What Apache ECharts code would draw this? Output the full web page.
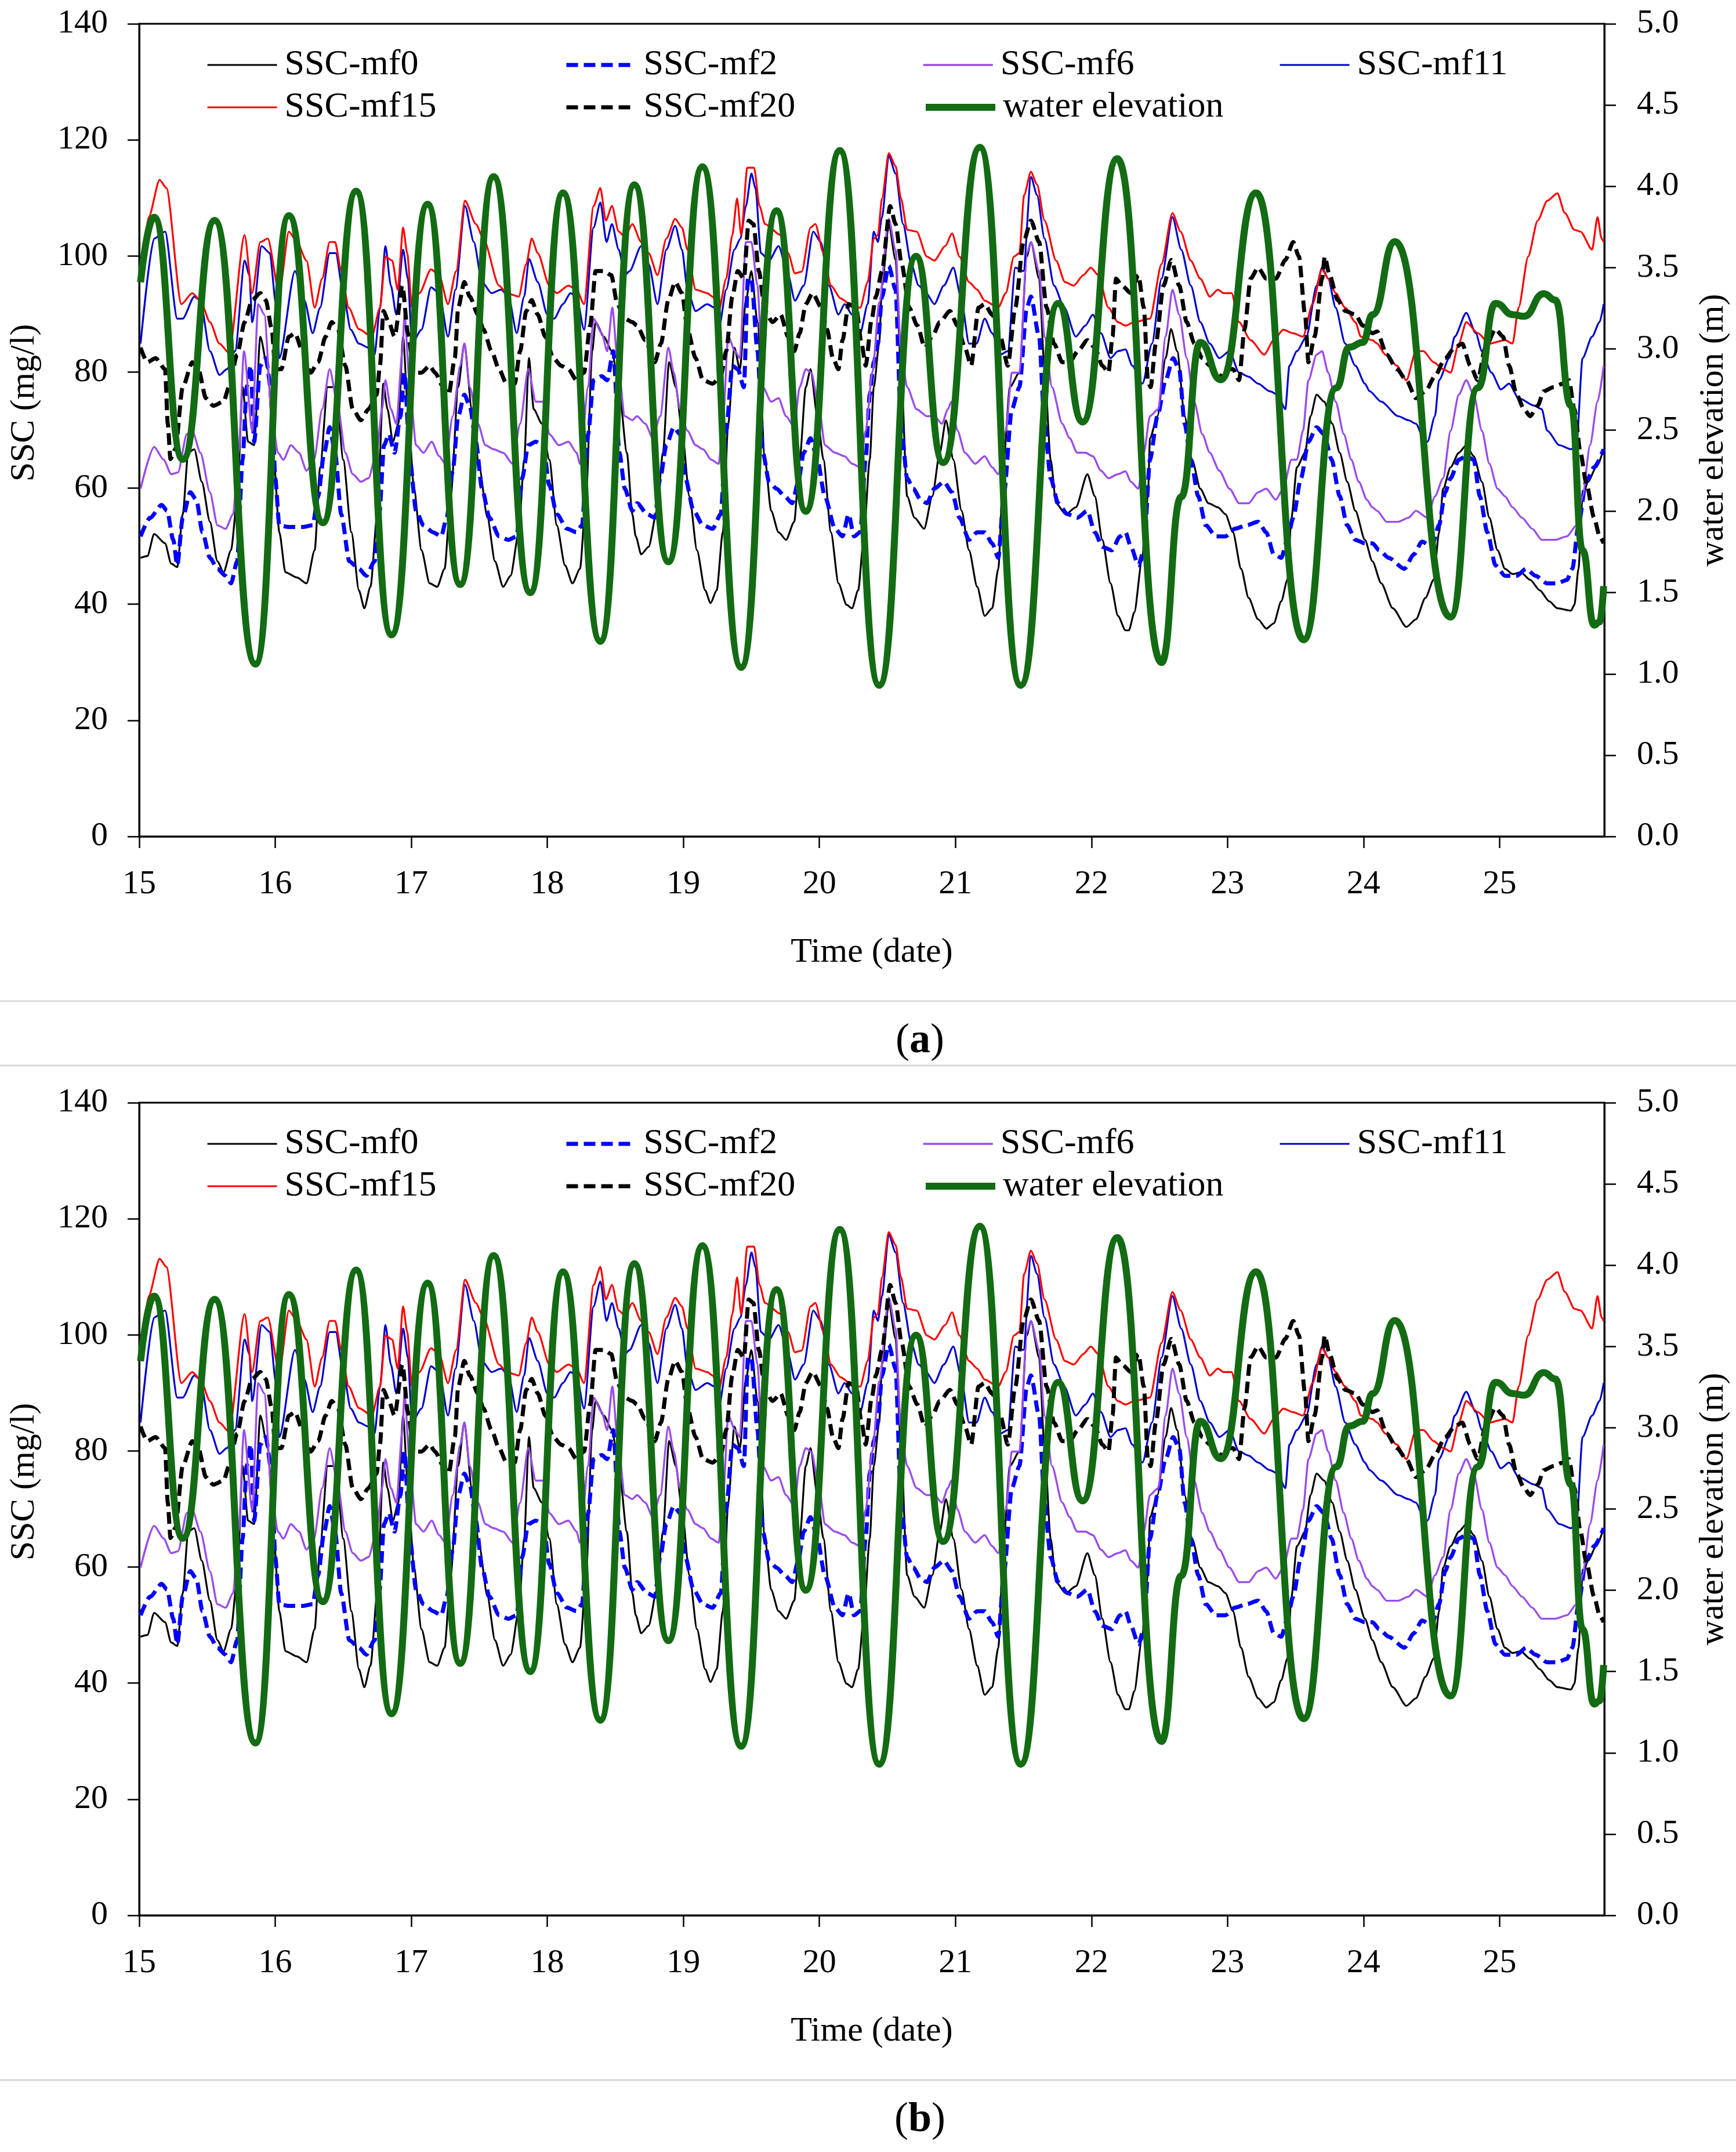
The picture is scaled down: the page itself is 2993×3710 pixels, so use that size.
<!DOCTYPE html>
<html>
<head>
<meta charset="utf-8">
<script src="https://cdn.jsdelivr.net/npm/echarts@6/dist/echarts.min.js"></script>
<style>
html,body{margin:0;padding:0;background:#fff;}
#c{width:2993px;height:3710px;}
</style>
</head>
<body>
<div id="c"></div>
<script>
// ---------- data (time in days, SSC in mg/l, water elevation in m) ----------
const dayTicks = [15,16,17,18,19,20,21,22,23,24,25];
const ssCTicksMax = 140;
const elevTicksMax = 5;

const mf0 = [[15.01,48],[15.06,48.3],[15.11,52.1],[15.19,50.5],[15.235,47],[15.28,46.4],[15.32,55.5],[15.36,66.1],[15.405,66.7],[15.46,61.1],[15.52,54.2],[15.575,47.4],[15.62,45.5],[15.675,49.3],[15.72,58],[15.76,77.4],[15.80,68],[15.845,67.4],[15.89,86.1],[15.945,80.5],[15.99,64.9],[16.03,52.4],[16.075,45.5],[16.16,44.6],[16.23,43.6],[16.29,49.3],[16.33,63.6],[16.385,77.4],[16.445,77.4],[16.50,64.9],[16.56,52.4],[16.615,42.4],[16.655,39.3],[16.70,43],[16.75,55.5],[16.795,78],[16.825,73.6],[16.865,68],[16.905,71.1],[16.94,86.1],[16.975,73.6],[17.02,59.9],[17.075,49.3],[17.135,43.6],[17.19,43],[17.245,46.1],[17.29,58.6],[17.345,77.4],[17.39,84.9],[17.445,73.6],[17.50,63.6],[17.56,54.9],[17.615,47.4],[17.675,43],[17.73,44.9],[17.79,52.4],[17.83,64.9],[17.865,82.4],[17.90,73.6],[17.96,71.1],[18.015,64.9],[18.07,53.6],[18.13,46.7],[18.185,43.6],[18.24,46.1],[18.285,58.6],[18.33,83.6],[18.355,88.6],[18.415,86.1],[18.475,83.6],[18.525,77.4],[18.585,66.1],[18.625,55.5],[18.65,51.7],[18.69,48.6],[18.745,49.9],[18.805,56.1],[18.85,66.1],[18.895,81.7],[18.945,77.4],[18.99,69.9],[19.045,58.6],[19.10,49.3],[19.16,42.4],[19.20,40.2],[19.245,42.4],[19.29,52.4],[19.33,71.1],[19.375,84.2],[19.415,80.5],[19.46,92.4],[19.50,97.4],[19.545,88.6],[19.60,64.9],[19.645,56.1],[19.70,52.4],[19.755,51.1],[19.815,54.2],[19.855,64.9],[19.90,77.4],[19.935,80.5],[19.985,72.4],[20.03,64.9],[20.085,52.4],[20.14,43.6],[20.20,39.9],[20.24,39.3],[20.285,42.4],[20.325,51.1],[20.37,64.9],[20.40,77.4],[20.44,85],[20.46,94.9],[20.51,105.5],[20.56,99.3],[20.60,80.5],[20.645,58.6],[20.70,54.9],[20.77,53],[20.83,58.6],[20.885,66.1],[20.93,71.7],[20.985,64.9],[21.045,56.1],[21.10,49.3],[21.16,43],[21.215,38],[21.27,39.3],[21.315,46.1],[21.355,64.9],[21.40,77.4],[21.47,79.9],[21.525,99.9],[21.555,102.4],[21.615,96.1],[21.655,80.5],[21.70,64.9],[21.74,57.4],[21.81,55.5],[21.885,56.7],[21.97,62.4],[22.025,58.6],[22.08,51.1],[22.14,43.6],[22.195,38],[22.25,35.5],[22.275,35.5],[22.315,38.6],[22.37,47.4],[22.415,58.6],[22.43,68.6],[22.485,72.4],[22.545,82.4],[22.585,87.4],[22.63,83.6],[22.685,72.4],[22.74,64.9],[22.80,59.9],[22.86,57.4],[22.93,56.7],[22.985,55.5],[23.04,52.4],[23.10,46.1],[23.155,41.1],[23.225,37.4],[23.285,35.8],[23.34,36.7],[23.395,40.5],[23.44,44.2],[23.47,54.9],[23.51,63.6],[23.57,66.1],[23.61,72.4],[23.655,76.1],[23.71,74.9],[23.77,71.1],[23.825,66.1],[23.88,61.1],[23.94,56.1],[24.01,51.1],[24.065,47.4],[24.13,43.6],[24.215,39.3],[24.315,36.1],[24.385,37.4],[24.455,41.1],[24.515,44.2],[24.555,52.4],[24.585,59.9],[24.64,63.6],[24.70,66.1],[24.755,67.4],[24.81,65.5],[24.87,61.1],[24.925,54.9],[24.985,49.3],[25.04,46.1],[25.095,45.2],[25.155,45.5],[25.225,44.2],[25.295,42.4],[25.365,40.5],[25.425,39.3],[25.525,38.9],[25.55,39.9],[25.58,46.1],[25.61,58.6],[25.65,61.1],[25.71,63.6],[25.765,66.7]];

const mf2 = [[15.01,51.7],[15.08,54.9],[15.165,57.1],[15.205,56.1],[15.25,51.1],[15.28,46.7],[15.32,54.9],[15.375,59.3],[15.42,58],[15.465,52.4],[15.52,48],[15.575,46.1],[15.635,44.9],[15.675,43.6],[15.72,47.4],[15.76,64.9],[15.79,77.4],[15.82,81.1],[15.845,68],[15.89,81.1],[15.93,82.4],[15.975,76.1],[16.0,61.7],[16.03,53.6],[16.10,53.3],[16.20,53.3],[16.275,53.6],[16.315,58.6],[16.36,66.1],[16.40,70.5],[16.44,66.1],[16.485,55.5],[16.545,47.4],[16.615,46.1],[16.67,44.9],[16.73,47.4],[16.765,55.5],[16.80,67.4],[16.835,69.3],[16.877,66.1],[16.92,72.4],[16.95,79.9],[16.99,64.9],[17.035,56.1],[17.09,53.6],[17.16,52.4],[17.22,51.7],[17.26,54.9],[17.305,63],[17.345,72.4],[17.39,76.1],[17.43,74.2],[17.475,68],[17.52,59.9],[17.575,54.9],[17.645,51.7],[17.715,51.1],[17.775,51.7],[17.815,61.7],[17.86,67.4],[17.915,68],[17.97,67.4],[18.015,60.5],[18.07,55.5],[18.145,53],[18.215,52.4],[18.255,53.6],[18.30,69.3],[18.34,78.6],[18.40,79.3],[18.44,78.6],[18.485,83.6],[18.53,66.1],[18.57,59.9],[18.625,56.1],[18.66,57.4],[18.735,55.5],[18.79,54.9],[18.83,61.7],[18.875,67.4],[18.93,70.5],[18.975,69.3],[19.015,61.7],[19.075,56.1],[19.145,53.6],[19.215,53],[19.275,55.5],[19.315,69.9],[19.36,81.1],[19.40,80.5],[19.445,77.4],[19.475,96.1],[19.50,96.1],[19.545,83.6],[19.585,66.1],[19.63,61.1],[19.685,59.9],[19.745,58.6],[19.80,57.4],[19.845,61.1],[19.885,66.1],[19.935,68.6],[19.985,64.9],[20.04,58.6],[20.115,53],[20.17,51.7],[20.215,55.5],[20.255,51.7],[20.30,52.4],[20.34,64.9],[20.37,76.1],[20.40,81.7],[20.43,85],[20.46,93],[20.51,98.3],[20.56,94.2],[20.60,71.1],[20.645,61.7],[20.69,59.9],[20.745,58],[20.79,57.4],[20.845,59.9],[20.915,61.1],[20.975,59.3],[21.03,54.9],[21.10,51.1],[21.16,52.4],[21.215,52.4],[21.27,50.5],[21.315,48],[21.355,58.6],[21.415,73.6],[21.47,77.4],[21.525,91.1],[21.555,93],[21.615,86.1],[21.655,71.1],[21.70,61.7],[21.755,57.4],[21.825,55.5],[21.895,54.9],[21.97,56.1],[22.025,52.4],[22.08,49.9],[22.15,49.3],[22.21,51.7],[22.25,52.4],[22.29,49.9],[22.345,46.7],[22.385,49.3],[22.43,64.9],[22.485,72.4],[22.545,78.6],[22.60,82.4],[22.645,80.5],[22.685,71.1],[22.73,64.9],[22.785,58.6],[22.84,53.6],[22.915,51.7],[22.985,51.7],[23.055,53],[23.14,53.6],[23.225,54.2],[23.285,52.4],[23.34,48.6],[23.395,48],[23.44,51.1],[23.483,54.9],[23.54,61.7],[23.595,68],[23.655,70.5],[23.71,69.3],[23.765,64.9],[23.825,58.6],[23.88,53.6],[23.94,51.1],[24.01,50.5],[24.066,50.5],[24.115,49.3],[24.185,48],[24.30,46.1],[24.37,48.6],[24.43,50.8],[24.50,49.9],[24.555,53.6],[24.60,59.3],[24.64,61.7],[24.70,64.9],[24.755,65.5],[24.81,64.9],[24.855,58.6],[24.91,52.4],[24.97,46.7],[25.04,44.9],[25.125,44.9],[25.195,46.1],[25.265,44.9],[25.35,43.6],[25.425,43.6],[25.495,44.2],[25.535,46.1],[25.58,53.6],[25.635,61.1],[25.695,63.6],[25.765,66.7]];

const mf6 = [[15.01,59.9],[15.11,67.1],[15.18,64.9],[15.235,62.4],[15.285,62.7],[15.35,69.3],[15.39,69.9],[15.45,66.1],[15.52,59.3],[15.575,53.6],[15.635,53],[15.69,55.5],[15.73,66.1],[15.77,83.6],[15.83,69.9],[15.875,91.7],[15.92,89.9],[15.975,72.4],[16.02,66.1],[16.06,64.9],[16.115,67.4],[16.175,66.1],[16.23,63],[16.285,64.9],[16.345,73.6],[16.40,80.5],[16.46,74.2],[16.515,66.1],[16.57,62.4],[16.63,61.1],[16.685,61.7],[16.745,66.1],[16.785,73.6],[16.81,78.6],[16.85,73.6],[16.89,71.1],[16.935,83.6],[16.95,89.9],[16.99,77.4],[17.035,67.4],[17.09,66.1],[17.15,68],[17.205,65.5],[17.25,64.2],[17.305,72.4],[17.36,81.1],[17.39,84.9],[17.43,77.4],[17.49,71.1],[17.545,67.4],[17.605,66.7],[17.675,66.1],[17.745,64.2],[17.80,71.1],[17.86,80.5],[17.915,74.9],[17.97,74.9],[18.015,69.3],[18.085,67.4],[18.155,68],[18.215,66.1],[18.24,64.2],[18.30,77.4],[18.34,89.2],[18.40,86.7],[18.44,83.6],[18.478,91.1],[18.515,82.4],[18.57,72.4],[18.625,71.7],[18.66,72.4],[18.72,71.1],[18.775,68.6],[18.83,72.4],[18.89,84.2],[18.93,79.9],[18.975,73.6],[19.03,69.9],[19.09,67.4],[19.145,66.7],[19.205,64.9],[19.26,64.2],[19.29,71.1],[19.33,86.1],[19.38,83.6],[19.415,82.4],[19.46,102.4],[19.50,102.4],[19.545,94.9],[19.585,77.4],[19.645,74.9],[19.70,75.5],[19.755,72.4],[19.815,70.5],[19.855,77.4],[19.90,80.5],[19.94,79.9],[20.0,73.6],[20.04,67.4],[20.115,66.1],[20.185,65.5],[20.24,64.2],[20.30,63.6],[20.34,69.9],[20.39,80],[20.44,92],[20.51,106.4],[20.56,101.1],[20.60,83.6],[20.645,77.4],[20.715,73.6],[20.79,72.4],[20.845,72.4],[20.90,71.1],[20.945,73.6],[20.97,74.9],[21.015,69.9],[21.07,66.1],[21.145,64.2],[21.215,65.5],[21.27,63.6],[21.315,62.4],[21.37,69.9],[21.415,79.9],[21.47,79.9],[21.525,100.5],[21.555,102.4],[21.615,97.4],[21.655,86.1],[21.71,77.4],[21.785,71.1],[21.84,68.6],[21.895,66.1],[21.955,66.1],[22.01,65.5],[22.07,63],[22.125,61.7],[22.195,62.4],[22.25,62.9],[22.29,61.1],[22.345,59.9],[22.385,66.1],[22.43,72.4],[22.49,73.6],[22.545,86.1],[22.595,94.2],[22.645,89.9],[22.70,82.4],[22.755,74.9],[22.815,69.3],[22.87,66.1],[22.94,63],[23.015,59.9],[23.085,57.4],[23.155,57.4],[23.225,59.3],[23.285,59.9],[23.355,58],[23.41,59.9],[23.47,64.9],[23.51,64.9],[23.555,69.9],[23.595,78.6],[23.655,83],[23.695,83.6],[23.74,79.9],[23.795,74.9],[23.855,69.3],[23.91,64.9],[23.965,61.1],[24.025,58],[24.065,56.7],[24.10,56.1],[24.17,54.2],[24.255,54.2],[24.33,54.9],[24.385,56.1],[24.47,54.9],[24.525,58.6],[24.585,61.7],[24.64,69.9],[24.70,76.1],[24.755,78.6],[24.81,76.1],[24.87,69.9],[24.925,64.2],[24.985,59.9],[25.04,58.6],[25.095,56.7],[25.165,54.9],[25.24,53],[25.31,51.1],[25.41,51.1],[25.495,51.7],[25.565,53.6],[25.61,58.6],[25.665,67.4],[25.72,74.9],[25.765,81.1]];

const mf11 = [[15.01,84.9],[15.11,103],[15.19,104.2],[15.28,89.2],[15.32,89.2],[15.405,93],[15.45,92.3],[15.52,83.6],[15.59,79.5],[15.645,80.5],[15.705,83.6],[15.775,99.2],[15.81,96.7],[15.83,88.6],[15.90,101.7],[15.96,100.5],[16.005,91.7],[16.03,82.4],[16.145,97.4],[16.215,92.3],[16.275,86.7],[16.33,91.1],[16.40,100.5],[16.445,100.5],[16.50,93.6],[16.555,87.3],[16.615,84.9],[16.685,84.2],[16.73,83],[16.77,91.1],[16.81,101.7],[16.85,94.9],[16.89,89.9],[16.94,101.1],[16.975,96.1],[17.005,84.9],[17.075,87.3],[17.145,94.6],[17.205,93.6],[17.27,86.1],[17.325,94.2],[17.395,108.6],[17.46,102.4],[17.52,95.5],[17.59,93.6],[17.66,94.2],[17.715,93],[17.775,86.7],[17.83,93],[17.865,99.5],[17.93,95.5],[18.0,89.9],[18.05,89.2],[18.115,91.7],[18.17,93.6],[18.215,93],[18.27,87.3],[18.34,104.9],[18.39,109.2],[18.435,102.4],[18.475,105.5],[18.525,101.1],[18.57,96.7],[18.605,97.4],[18.69,101.7],[18.745,98.6],[18.81,91.7],[18.875,101.1],[18.94,105.2],[18.99,101.1],[19.03,94.2],[19.09,90.5],[19.175,91.7],[19.23,91.1],[19.265,88],[19.315,94.2],[19.375,101.1],[19.42,103],[19.46,108.6],[19.50,114.2],[19.53,111.7],[19.57,100.5],[19.63,99.2],[19.70,101.7],[19.77,96.7],[19.82,92.3],[19.885,94.9],[19.955,104.2],[20.01,102.4],[20.07,94.9],[20.14,89.9],[20.185,91.7],[20.24,89.9],[20.30,86.7],[20.355,91.7],[20.40,104.2],[20.43,102.4],[20.46,106.7],[20.51,117.3],[20.56,114.2],[20.615,105.5],[20.675,98.6],[20.73,94.9],[20.785,93.6],[20.845,91.7],[20.915,94.9],[20.985,98],[21.04,93],[21.10,84.9],[21.155,84.9],[21.215,89.2],[21.27,86.7],[21.33,83],[21.385,83.6],[21.44,98],[21.50,97.4],[21.555,113.6],[21.60,110.5],[21.655,103],[21.725,94.9],[21.80,91.1],[21.885,86.1],[21.955,88],[22.01,89.9],[22.07,86.7],[22.14,82.4],[22.195,83.6],[22.25,83.9],[22.30,81.1],[22.375,78],[22.445,84.9],[22.515,96.1],[22.595,106.7],[22.66,101.1],[22.73,94.9],[22.80,88.6],[22.87,84.9],[22.94,82.4],[23.015,83.6],[23.085,79.9],[23.155,79.2],[23.225,78],[23.31,76.7],[23.37,76.1],[23.425,73.6],[23.455,81.1],[23.51,83.6],[23.58,86.1],[23.655,94.9],[23.695,98],[23.74,96.1],[23.795,91.1],[23.865,84.9],[23.94,81.1],[24.01,78],[24.044,76.7],[24.13,74.9],[24.255,72.4],[24.33,71.7],[24.385,71.1],[24.44,68.6],[24.47,68],[24.525,72.4],[24.555,78.6],[24.63,82.4],[24.67,86.1],[24.755,90.2],[24.825,86.7],[24.87,83.6],[24.94,79.9],[25.01,77],[25.07,78],[25.14,75.5],[25.255,74.2],[25.31,73.6],[25.35,69.9],[25.44,67.4],[25.525,66.7],[25.565,67.4],[25.61,82.4],[25.68,86.1],[25.735,88.6],[25.765,91.7]];

const mf15 = [[15.01,96],[15.07,106.7],[15.15,113.1],[15.20,111.7],[15.31,91.7],[15.39,93.6],[15.45,92.3],[15.52,88.6],[15.59,84.9],[15.66,83.3],[15.775,103.6],[15.83,93.6],[15.89,102.4],[15.945,103],[16.03,93.6],[16.10,104.2],[16.16,102.4],[16.23,99.2],[16.29,91.1],[16.345,96.1],[16.40,102.4],[16.44,102.4],[16.485,97.4],[16.54,91.1],[16.615,87.4],[16.71,86.1],[16.77,91.1],[16.81,99.9],[16.86,99.2],[16.90,94.2],[16.94,104.9],[16.97,100.5],[17.005,91.1],[17.06,93.6],[17.145,97.7],[17.205,96.7],[17.27,91.7],[17.33,97.4],[17.395,109.5],[17.475,105.5],[17.53,103],[17.645,94.9],[17.70,93.6],[17.79,93],[17.845,98.6],[17.885,103],[17.93,100.5],[18.015,94.9],[18.07,93.6],[18.155,94.9],[18.215,94.2],[18.27,91.7],[18.34,108.6],[18.39,111.7],[18.43,106.1],[18.475,108.6],[18.525,104.2],[18.57,103.3],[18.625,105.5],[18.69,102.4],[18.745,100.5],[18.81,96.7],[18.875,103],[18.94,106.4],[18.99,104.9],[19.03,101.1],[19.09,94.2],[19.175,93.6],[19.215,93],[19.26,90.5],[19.315,96.1],[19.36,103.6],[19.395,109.9],[19.425,103.6],[19.47,115.2],[19.52,115.2],[19.56,108.6],[19.60,105.5],[19.715,103.6],[19.77,100.5],[19.82,97],[19.87,97.3],[19.935,104.9],[19.97,105.5],[20.03,100.5],[20.085,94.9],[20.155,92.7],[20.225,91.7],[20.30,91.1],[20.355,95.5],[20.40,103],[20.43,103.6],[20.46,109.9],[20.51,117.7],[20.56,115.5],[20.60,109.9],[20.645,104.5],[20.715,104.2],[20.79,99.9],[20.845,99.2],[20.925,101.7],[20.975,103.9],[21.03,99.9],[21.10,95.5],[21.16,94.2],[21.215,92.3],[21.315,91.1],[21.37,93.6],[21.43,99.9],[21.47,100.5],[21.505,110.5],[21.555,114.5],[21.60,112.3],[21.655,106.1],[21.74,99.2],[21.805,95.5],[21.87,94.9],[21.94,96.7],[21.995,98],[22.05,96.7],[22.125,91.1],[22.195,88.6],[22.25,88],[22.315,88.6],[22.43,89.2],[22.515,98.6],[22.595,107.4],[22.655,104.2],[22.73,99.2],[22.80,96.1],[22.87,93],[22.93,94.2],[22.97,93.6],[23.03,93.6],[23.085,88.6],[23.17,85.5],[23.27,83],[23.34,85.5],[23.41,87.3],[23.48,86.7],[23.555,86.1],[23.625,91.7],[23.695,97.7],[23.74,96.1],[23.795,93.6],[23.865,91.1],[23.94,88.6],[23.98,86.1],[24.065,85.5],[24.10,84.9],[24.16,83],[24.245,81.1],[24.315,78.6],[24.385,83.6],[24.44,83.6],[24.515,81.7],[24.585,80.5],[24.64,79.9],[24.70,84.9],[24.755,88.6],[24.84,86.7],[24.925,84.9],[25.04,85.5],[25.095,84.9],[25.14,91.1],[25.21,99.9],[25.28,106.1],[25.35,109.5],[25.425,110.8],[25.48,107.4],[25.55,104.5],[25.595,104.2],[25.68,101.1],[25.72,106.7],[25.75,103],[25.765,102.4]];

const mf20 = [[15.01,84.2],[15.06,81.7],[15.12,82.4],[15.19,80.5],[15.21,71.1],[15.23,65],[15.265,66.7],[15.32,77.4],[15.39,81.7],[15.435,80.5],[15.49,75.5],[15.545,74.2],[15.62,74.9],[15.66,77.4],[15.72,83],[15.775,88.6],[15.83,92.4],[15.89,93.6],[15.93,92.4],[15.975,87.4],[16.0,80.5],[16.045,80.5],[16.10,86.1],[16.145,86.7],[16.20,83.6],[16.26,79.9],[16.315,81.7],[16.37,86.1],[16.415,88.6],[16.46,87.4],[16.515,81.1],[16.57,73.6],[16.63,71.7],[16.685,73.6],[16.745,76.1],[16.77,81.1],[16.795,90.5],[16.835,88.6],[16.877,86.1],[16.935,94.9],[16.975,86.7],[17.02,79.9],[17.075,79.9],[17.135,81.1],[17.175,79.9],[17.235,77.4],[17.275,76.1],[17.32,82.4],[17.345,91.1],[17.39,95.5],[17.43,93],[17.49,89.9],[17.53,87.4],[17.59,83.6],[17.645,80.5],[17.70,78],[17.76,78],[17.80,83.6],[17.845,90.5],[17.885,92.4],[17.93,89.9],[17.985,86.1],[18.045,82.4],[18.10,81.1],[18.155,80.5],[18.215,78.6],[18.27,79.9],[18.315,88],[18.355,97.4],[18.415,97.4],[18.47,96.7],[18.515,91.7],[18.57,89.2],[18.625,88.6],[18.66,88],[18.72,85.5],[18.79,81.7],[18.835,84.9],[18.89,92.4],[18.94,95.5],[18.99,93.6],[19.03,87.4],[19.09,82.4],[19.145,78.6],[19.215,78],[19.275,79.3],[19.315,83.6],[19.36,93],[19.40,97.4],[19.445,96.1],[19.48,106.1],[19.515,105.5],[19.555,97.4],[19.60,90.5],[19.655,88.6],[19.715,89.9],[19.77,86.1],[19.815,83.6],[19.855,86.7],[19.90,91.7],[19.95,93.6],[20.015,91.1],[20.055,87.4],[20.10,82.4],[20.14,80.5],[20.17,85.5],[20.215,91.7],[20.27,91.1],[20.31,84.9],[20.34,81.1],[20.385,89.2],[20.415,93],[20.46,97.4],[20.52,108.6],[20.56,105.5],[20.605,98.6],[20.66,91.1],[20.72,88],[20.775,84.2],[20.83,86.1],[20.885,88.6],[20.96,90.5],[21.015,88],[21.07,84.2],[21.115,81.1],[21.17,91.1],[21.215,91.7],[21.27,89.9],[21.33,86.1],[21.385,81.1],[21.44,91.1],[21.50,102.4],[21.555,106.1],[21.615,102.4],[21.67,91.1],[21.725,84.9],[21.785,81.7],[21.84,81.7],[21.90,83.6],[21.97,85.5],[22.025,84.2],[22.08,81.1],[22.125,79.9],[22.155,86.1],[22.18,96.1],[22.225,94.9],[22.29,93.6],[22.345,96.7],[22.385,91.1],[22.415,78.6],[22.435,77.4],[22.473,84.9],[22.53,94.9],[22.587,99.3],[22.645,94.9],[22.70,88.6],[22.757,84.9],[22.815,82.4],[22.87,81.1],[22.93,78.6],[22.985,80.5],[23.04,80.5],[23.085,78.6],[23.125,87.4],[23.17,96.1],[23.225,98],[23.285,96.1],[23.355,96.1],[23.425,99.3],[23.483,102.4],[23.525,99.9],[23.57,89.9],[23.595,81.7],[23.64,86.1],[23.695,96.1],[23.715,99.9],[23.75,96.7],[23.81,92.4],[23.867,90.5],[23.94,89.9],[23.995,88],[24.065,86.7],[24.10,87],[24.17,83],[24.245,80.5],[24.315,78.6],[24.385,75.5],[24.455,76.7],[24.525,79.3],[24.60,82.4],[24.67,84.2],[24.725,84.9],[24.785,81.1],[24.84,78.6],[24.895,84.2],[24.97,87.4],[25.025,86.1],[25.07,81.1],[25.125,76.1],[25.18,73.6],[25.225,72.4],[25.28,74.2],[25.325,76.7],[25.395,77.4],[25.465,78],[25.51,78.6],[25.55,73.6],[25.595,66.1],[25.635,61.1],[25.695,54.9],[25.735,51.7],[25.765,50.5]];

const waterElev = [[15.01,3.41],[15.11,3.81],[15.32,2.32],[15.555,3.79],[15.855,1.06],[16.10,3.82],[16.35,1.93],[16.595,3.97],[16.855,1.24],[17.12,3.89],[17.36,1.55],[17.605,4.06],[17.875,1.50],[18.115,3.96],[18.39,1.20],[18.64,4.01],[18.89,1.69],[19.14,4.12],[19.425,1.04],[19.685,3.85],[19.90,2.00],[20.15,4.22],[20.44,0.93],[20.71,3.57],[20.91,2.30],[21.18,4.24],[21.48,0.93],[21.755,3.28],[21.935,2.55],[22.19,4.17],[22.515,1.07],[22.66,2.09],[22.80,3.04],[22.95,2.81],[23.21,3.96],[23.56,1.21],[23.80,2.76],[23.895,3.01],[23.995,3.04],[24.066,3.21],[24.23,3.66],[24.64,1.35],[24.84,2.76],[24.97,3.28],[25.10,3.21],[25.18,3.20],[25.325,3.34],[25.41,3.30],[25.525,2.65],[25.61,1.76],[25.695,1.30],[25.735,1.32],[25.765,1.54]];

// ---------- presentation ----------
const FONT = 'Liberation Serif';
const W = 2993, H = 3710;
const PANEL_SHIFT = 1860;
const seriesDefs = [
  {name:'SSC-mf0',  data:mf0,  color:'#000000', width:3.2, dash:'solid', y:0, legendCol:0, legendRow:0},
  {name:'SSC-mf2',  data:mf2,  color:'#0000FF', width:7,   dash:[20,10], y:0, legendCol:1, legendRow:0},
  {name:'SSC-mf6',  data:mf6,  color:'#9A4CEC', width:3.4, dash:'solid', y:0, legendCol:2, legendRow:0},
  {name:'SSC-mf11', data:mf11, color:'#0000D0', width:3.2, dash:'solid', y:0, legendCol:3, legendRow:0},
  {name:'SSC-mf15', data:mf15, color:'#FF0000', width:3.2, dash:'solid', y:0, legendCol:0, legendRow:1},
  {name:'SSC-mf20', data:mf20, color:'#000000', width:7,   dash:[20,10], y:0, legendCol:1, legendRow:1},
  {name:'water elevation', data:waterElev, color:'#136B13', width:12, dash:'solid', y:1, legendCol:2, legendRow:1}
];
const legendX = [356, 973, 1590, 2205];
const legendRowY = [112, 185];

const grids = [], xAxes = [], yAxes = [], series = [], legends = [], graphics = [];
for (let p = 0; p < 2; p++) {
  const dy = p * PANEL_SHIFT;
  grids.push({left:240, top:41 + dy, width:2526, height:1401, show:true,
    borderColor:'#000', borderWidth:3, backgroundColor:'rgba(0,0,0,0)'});
  xAxes.push({
    type:'value', gridIndex:p, min:15, max:25.77, interval:1,
    axisLine:{show:true, onZero:false, lineStyle:{color:'#000', width:3}},
    axisTick:{show:true, length:20, lineStyle:{color:'#000', width:2.5}, customValues:dayTicks},
    axisLabel:{customValues:dayTicks, fontFamily:FONT, fontSize:58, color:'#000', margin:54},
    splitLine:{show:false},
    name:'Time (date)', nameLocation:'middle', nameGap:170, nameMoveOverlap:false,
    nameTextStyle:{fontFamily:FONT, fontSize:60, color:'#000'}
  });
  yAxes.push({
    type:'value', gridIndex:p, position:'left', min:0, max:ssCTicksMax, interval:20,
    axisLine:{show:true, onZero:false, lineStyle:{color:'#000', width:3}},
    axisTick:{show:true, length:20, lineStyle:{color:'#000', width:2.5}},
    axisLabel:{fontFamily:FONT, fontSize:58, color:'#000', margin:54},
    splitLine:{show:false},
    name:'SSC (mg/l)', nameLocation:'middle', nameRotate:90, nameGap:168, nameMoveOverlap:false,
    nameTextStyle:{fontFamily:FONT, fontSize:60, color:'#000', padding:[0,0,0,94]}
  });
  yAxes.push({
    type:'value', gridIndex:p, position:'right', min:0, max:elevTicksMax, interval:0.5,
    axisLine:{show:true, onZero:false, lineStyle:{color:'#000', width:3}},
    axisTick:{show:true, length:20, lineStyle:{color:'#000', width:2.5}},
    axisLabel:{fontFamily:FONT, fontSize:58, color:'#000', margin:56, formatter:v => v.toFixed(1)},
    splitLine:{show:false},
    name:'water elevation (m)', nameLocation:'middle', nameRotate:90, nameGap:158, nameMoveOverlap:false,
    nameTextStyle:{fontFamily:FONT, fontSize:60, color:'#000'}
  });
  seriesDefs.forEach(d => {
    series.push({
      type:'line', name:d.name, data:d.data, xAxisIndex:p, yAxisIndex:p*2 + d.y,
      symbol:'none', smooth: d.y === 1 ? 0.5 : 0.25, smoothMonotone:'x',
      lineStyle:{color:d.color, width:d.width, type:d.dash, cap:'butt'},
      itemStyle:{color:d.color}, silent:true, clip:true
    });
    legends.push({
      data:[d.name], left:legendX[d.legendCol], top:legendRowY[d.legendRow] - 31 + dy,
      padding:0, itemWidth:120, itemHeight:20, selectedMode:false,
      lineStyle:{width:d.width}, itemStyle:{opacity:0},
      textStyle:{fontFamily:FONT, fontSize:62, color:'#000', padding:[0,0,0,8]}
    });
  });
  graphics.push({
    type:'text', x:1586, y:1795 + dy,
    style:{text:'{n|(}{b|' + (p === 0 ? 'a' : 'b') + '}{n|)}', align:'center', verticalAlign:'middle',
      rich:{n:{fontFamily:FONT, fontSize:72, fill:'#000'}, b:{fontFamily:FONT, fontSize:72, fontWeight:'bold', fill:'#000'}}}
  });
}
[1726, 1837, 3586].forEach(y => {
  graphics.push({type:'line', shape:{x1:0, y1:y, x2:W, y2:y}, style:{stroke:'#d9d9d9', lineWidth:3}});
});

const chart = echarts.init(document.getElementById('c'), null, {width:W, height:H, renderer:'canvas'});
chart.setOption({
  backgroundColor:'#ffffff',
  animation:false,
  grid:grids, xAxis:xAxes, yAxis:yAxes, series:series, legend:legends, graphic:graphics
});
</script>
</body>
</html>
